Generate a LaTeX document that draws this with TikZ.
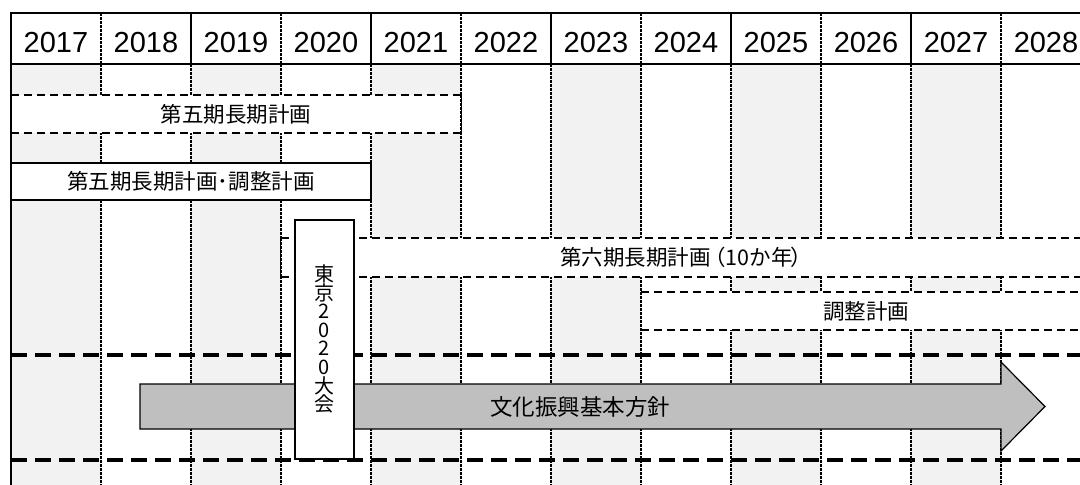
\documentclass[tikz,border=0pt]{standalone}
\usepackage{fontspec}
\setmainfont{Noto Sans CJK JP}
\newfontfamily\yearfont{Liberation Sans}
\definecolor{colshade}{HTML}{F2F2F2}
\definecolor{arrowgray}{HTML}{BFBFBF}
\begin{document}
\begin{tikzpicture}[x=1pt,y=-1pt,
  colline/.style={line width=1.5pt, dash pattern=on 3pt off 1pt},
  bandline/.style={line width=1.5pt, dash pattern=on 8pt off 5pt},
  thickdash/.style={line width=3.5pt, dash pattern=on 16pt off 8pt},
  frame/.style={line width=2pt},
  yearlbl/.style={font=\yearfont\fontsize{29}{30}\selectfont, anchor=base, inner sep=0pt},
  jlbl/.style={font=\fontsize{21.5}{23}\selectfont},
  solidbox/.style={draw, line width=1.5pt, fill=white, inner sep=0pt, outer sep=0pt}
]
\useasboundingbox (0,0) rectangle (1080,485);
% column shading
\foreach \i in {0,2,4,6,8,10} \fill[colshade] ({11+90*\i},64) rectangle ({101+90*\i},485);
% body dividers
\foreach \i in {1,...,11} \draw[colline] ({11+90*\i},64) -- ({11+90*\i},485);
% band: fifth long-term plan
\fill[white] (11,95) rectangle (461,133);
\draw[bandline] (11,95) -- (461,95);
\draw[bandline] (11,133) -- (461,133);
\draw[colline] (461,95) -- (461,133);
\node[jlbl] (p5) at (236,114) {第五期長期計画};
% box: fifth plan adjustment
\node[solidbox, jlbl, minimum width=360pt, minimum height=37pt] (p5adj) at (191,181.5) {第五期長期計画･調整計画};
% band: sixth long-term plan
\fill[white] (281,238) rectangle (1080,277);
\draw[bandline] (281,238) -- (1080,238);
\draw[bandline] (281,277) -- (1080,277);
\draw[colline] (281,238) -- (281,277);
\node[jlbl] (p6) at (686,257.5) {第六期長期計画\kern-0.3em（10か年\kern-0.1em）};
% band: adjustment plan
\fill[white] (641,292) rectangle (1080,330);
\draw[bandline] (641,292) -- (1080,292);
\draw[bandline] (641,330) -- (1080,330);
\draw[colline] (641,292) -- (641,330);
\node[jlbl] (adj) at (866,311) {調整計画};
% thick dashed lines
\draw[thickdash] (11,355) -- (1080,355);
\draw[thickdash] (11,460) -- (1080,460);
% arrow
\draw[line width=1.2pt, fill=arrowgray, line join=miter] (140,384) -- (1001,384) -- (1001,362) -- (1045,406.5) -- (1001,451) -- (1001,429) -- (140,429) -- cycle;
\node[font=\fontsize{22.5}{24}\selectfont] (policy) at (580,407) {文化振興基本方針};
% Tokyo 2020 box
\node[solidbox, minimum width=59pt, minimum height=239pt] (tokyo) at (324.5,339.5) {};
\foreach \c [count=\k] in {東,京,2,0,2,0,大,会}
  \node[font=\fontsize{20}{20}\selectfont, anchor=base, inner sep=0pt] (tk\k) at (324.5,{281.6+18.57*(\k-1)}) {\c};
% header
\draw[frame] (10,13) -- (1080,13);
\draw[frame] (11,64) -- (1080,64);
\draw[frame] (11,12) -- (11,485);
\foreach \i in {1,3,5,7,9,11} \draw[colline] ({11+90*\i},13) -- ({11+90*\i},64);
\foreach \i in {2,4,6,8,10} \draw[line width=1.5pt] ({11+90*\i},13) -- ({11+90*\i},64);
\foreach \yr [count=\i from 0] in {2017,...,2028} \node[yearlbl] (y\yr) at ({56+90*\i},52) {\yr};
\end{tikzpicture}
\end{document}
